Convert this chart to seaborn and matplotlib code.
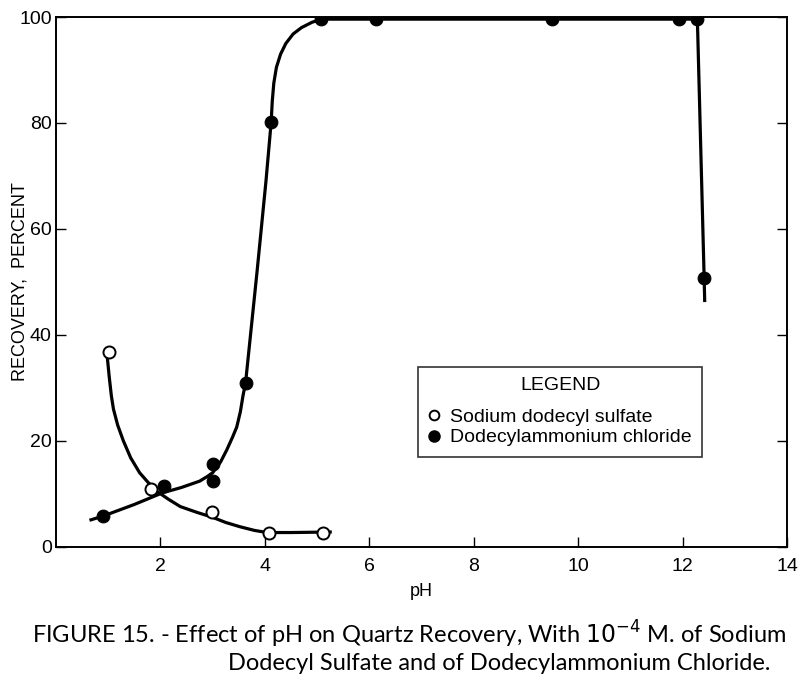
import matplotlib
matplotlib.use('Agg')
import matplotlib.pyplot as plt
import seaborn as sns
import pandas as pd
from matplotlib.lines import Line2D

# measured points
sds_ph = [1.02, 1.82, 2.99, 4.08, 5.11]
sds_rec = [36.8, 10.9, 6.6, 2.6, 2.7]

dac_ph = [0.9, 2.07, 3.0, 3.0, 3.63, 4.12, 5.08, 6.13, 9.5, 11.93, 12.28, 12.41]
dac_rec = [5.8, 11.5, 15.6, 12.4, 31.0, 80.2, 99.6, 99.6, 99.6, 99.6, 99.6, 50.7]

# hand-drawn curves
sds_curve_ph = [0.98, 1.02, 1.06, 1.1, 1.18, 1.29, 1.43, 1.6, 1.76, 1.93, 2.15,
                2.38, 2.7, 2.99, 3.25, 3.52, 3.8, 4.04, 4.5, 5.25]
sds_curve_rec = [36.0, 32.0, 28.5, 26.0, 23.0, 20.0, 16.8, 14.0, 12.2, 10.5, 9.0,
                 7.6, 6.5, 5.6, 4.6, 3.8, 3.1, 2.7, 2.7, 2.8]

dac_curve_ph = [0.67, 0.9, 1.5, 2.04, 2.4, 2.75, 2.9, 3.0, 3.15, 3.27, 3.38, 3.46,
                3.53, 3.58, 3.63, 3.85, 4.02, 4.12, 4.14, 4.17, 4.22, 4.3, 4.4,
                4.54, 4.7, 4.9, 5.08, 12.28, 12.41, 12.42]
dac_curve_rec = [5.1, 5.8, 8.0, 10.2, 11.2, 12.4, 13.3, 14.0, 16.0, 18.3, 20.7, 22.6,
                 25.5, 28.5, 31.0, 52.0, 69.0, 80.2, 84.0, 87.5, 90.5, 93.0, 95.0,
                 96.8, 98.0, 99.0, 99.6, 99.6, 50.7, 46.5]

plt.rcParams['font.family'] = ['Liberation Sans', 'DejaVu Sans']

fig = plt.figure(figsize=(8, 6.81), dpi=100)
ax = fig.add_axes([0.07, 0.197, 0.914, 0.778])

sds_line = pd.DataFrame({'ph': sds_curve_ph, 'rec': sds_curve_rec})
dac_line = pd.DataFrame({'ph': dac_curve_ph, 'rec': dac_curve_rec})
sns.lineplot(data=sds_line, x='ph', y='rec', sort=False, color='black', lw=2.3, ax=ax)
sns.lineplot(data=dac_line, x='ph', y='rec', sort=False, color='black', lw=2.3, ax=ax)

sns.scatterplot(x=sds_ph, y=sds_rec, marker='o', s=75, facecolor='white',
                edgecolor='black', linewidth=1.4, zorder=5, ax=ax)
sns.scatterplot(x=dac_ph, y=dac_rec, marker='o', s=85, color='black',
                edgecolor='black', zorder=5, ax=ax)

ax.set_xlim(0, 14)
ax.set_ylim(0, 100)
ax.set_xticks(range(2, 15, 2))
ax.set_yticks(range(0, 101, 20))
ax.tick_params(axis='both', direction='in', length=7, width=1, labelsize=14, pad=8)
ax.tick_params(axis='y', right=True, pad=3)
for s in ax.spines.values():
    s.set_linewidth(1.4)

ax.set_xlabel('pH', fontsize=13, labelpad=6)
ax.set_ylabel('RECOVERY,  PERCENT', fontsize=13)
ax.yaxis.set_label_coords(-0.038, 0.5)

handles = [
    Line2D([], [], marker='o', ls='none', markersize=7, markerfacecolor='white',
           markeredgecolor='black', markeredgewidth=1.4),
    Line2D([], [], marker='o', ls='none', markersize=8, color='black'),
]
leg = ax.legend(handles, ['Sodium dodecyl sulfate', 'Dodecylammonium chloride'],
                title='LEGEND', loc='upper left', bbox_to_anchor=(0.495, 0.34),
                fontsize=14, title_fontsize=14, frameon=True, fancybox=False,
                handlelength=0.6, handletextpad=0.5, borderpad=0.55,
                labelspacing=0.15, borderaxespad=0)
leg.get_frame().set_edgecolor('black')
leg.get_frame().set_linewidth(1.2)
leg._legend_box.sep = 10

fig.text(0.04, 0.055, 'FIGURE 15. - Effect of pH on Quartz Recovery, With $10^{-4}$ M. of Sodium',
         fontsize=17, family=['Lato', 'DejaVu Sans'], ha='left', va='baseline')
fig.text(0.285, 0.016, 'Dodecyl Sulfate and of Dodecylammonium Chloride.',
         fontsize=17, family=['Lato', 'DejaVu Sans'], ha='left', va='baseline')

fig.savefig('out.png', dpi=100)
